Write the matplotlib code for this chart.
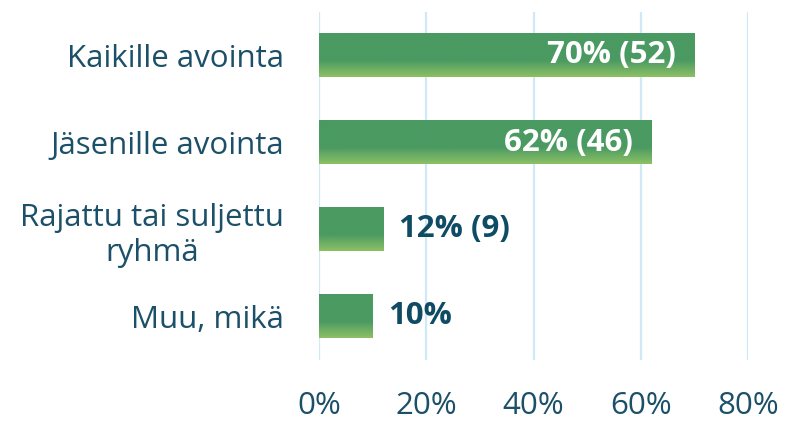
import numpy as np
import matplotlib.pyplot as plt
from matplotlib.colors import LinearSegmentedColormap

plt.rcParams['font.family'] = ['Open Sans', 'DejaVu Sans']

# data
categories = ["Kaikille avointa", "Jäsenille avointa", "Rajattu tai suljettu\nryhmä", "Muu, mikä"]
values = [70, 62, 12, 10]
labels = ["70% (52)", "62% (46)", "12% (9)", "10%"]
ticks = [0, 20, 40, 60, 80]
tick_labels = ["0%", "20%", "40%", "60%", "80%"]

text_col = "#1b5068"
label_col = "#0f4c64"
grid_col = "#cfe9f7"

fig = plt.figure(figsize=(7.85, 4.21), dpi=100)
ax = fig.add_axes([319 / 785, 1 - 360 / 421, (748 - 319) / 785, (360 - 12) / 421])

y = np.arange(len(categories))
bars = ax.barh(y, values, height=0.5, color="#4a9a62", zorder=2)

# vertical gradient on each bar (dark green top, light green bottom)
cmap = LinearSegmentedColormap.from_list("g", [(0, "#4a9a62"), (0.62, "#4a9a62"), (1, "#8dc065")])
grad = np.linspace(0, 1, 100).reshape(-1, 1)
for b in bars:
    x0, y0, w, h = b.get_x(), b.get_y(), b.get_width(), b.get_height()
    ax.imshow(grad, cmap=cmap, aspect="auto", extent=(x0, x0 + w, y0, y0 + h),
              origin="lower", zorder=3, interpolation="bicubic")

for b, v, lab in zip(bars, values, labels):
    yc = b.get_y() + b.get_height() / 2
    if v > 40:
        ax.annotate(lab, (v, yc), xytext=(-13.5, 0), textcoords="offset points",
                    ha="right", va="center", color="white", fontsize=22.5,
                    fontweight="bold", zorder=4)
    else:
        ax.annotate(lab, (v, yc), xytext=(11.5, 0), textcoords="offset points",
                    ha="left", va="center", color=label_col, fontsize=22.5,
                    fontweight="bold", zorder=4)

ax.set_xlim(0, 80)
ax.set_ylim(len(categories) - 0.5, -0.5)
ax.set_xticks(ticks)
ax.set_xticklabels(tick_labels, fontsize=22.5, color=text_col)
ax.set_yticks(y)
ax.set_yticklabels(categories, fontsize=22.5, color=text_col, multialignment="center")
ax.tick_params(axis="x", length=0, pad=22)
ax.tick_params(axis="y", length=0, pad=25)
ax.grid(axis="x", color=grid_col, linewidth=1.6, zorder=0)
ax.set_axisbelow(True)
for s in ax.spines.values():
    s.set_visible(False)

fig.savefig("out.png", dpi=100)
